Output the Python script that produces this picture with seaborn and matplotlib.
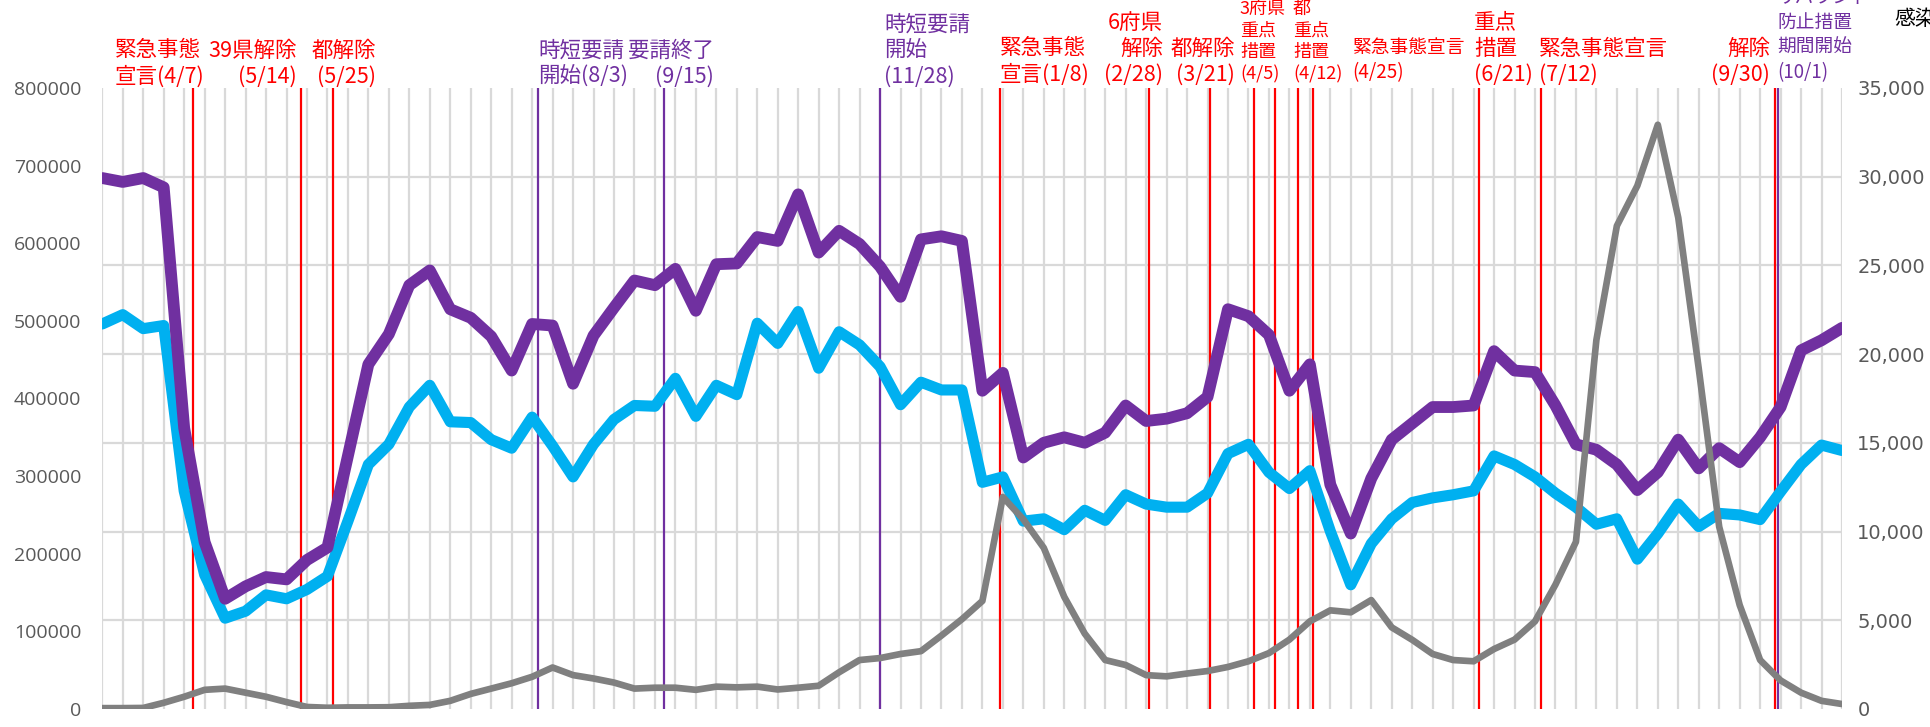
import numpy as np
import pandas as pd
import seaborn as sns
import matplotlib
matplotlib.use("Agg")
from matplotlib import pyplot as plt
from matplotlib.ticker import FixedLocator

# weekly points, first week starts 2020-03-07
start = pd.Timestamp("2020-03-07")
weeks = np.arange(86)

purple_vals = [684000, 679000, 684000, 672000, 362000, 215000, 142000, 158000, 170000, 167000,
               192000, 208000, 326000, 444000, 483000, 546000, 565000, 515000, 504000, 480000,
               436000, 496000, 494000, 419000, 481000, 517000, 552000, 546000, 567000, 513000,
               573000, 574000, 608000, 603000, 663000, 588000, 616000, 599000, 570000, 531000,
               605000, 609000, 603000, 410000, 433000, 324000, 343000, 350000, 343000, 356000,
               391000, 371000, 374000, 381000, 402000, 515000, 506000, 482000, 410000, 444000,
               289000, 226000, 297000, 347000, 368000, 389000, 389000, 391000, 461000, 436000,
               434000, 391000, 341000, 334000, 315000, 282000, 305000, 347000, 310000, 336000,
               318000, 350000, 389000, 462000, 475000, 491000]

cyan_vals = [496000, 508000, 490000, 494000, 281000, 173000, 117000, 126000, 147000, 142000,
             154000, 171000, 242000, 315000, 341000, 389000, 417000, 370000, 369000, 347000,
             336000, 376000, 339000, 299000, 341000, 373000, 391000, 390000, 426000, 377000,
             417000, 405000, 497000, 471000, 512000, 439000, 486000, 469000, 441000, 392000,
             421000, 411000, 411000, 292000, 299000, 242000, 245000, 231000, 256000, 243000,
             276000, 264000, 260000, 260000, 278000, 329000, 341000, 305000, 284000, 307000,
             229000, 160000, 213000, 245000, 266000, 272000, 276000, 281000, 326000, 315000,
             299000, 278000, 260000, 238000, 245000, 193000, 226000, 264000, 235000, 252000,
             250000, 244000, 280000, 315000, 340000, 333000]

cases_vals = [50, 50, 60, 350, 690, 1080, 1150, 920, 690, 390,
              115, 70, 90, 90, 100, 180, 230, 460, 850, 1150,
              1450, 1815, 2340, 1910, 1720, 1490, 1150, 1200, 1200, 1080,
              1260, 1220, 1260, 1100, 1200, 1310, 2070, 2760, 2870, 3100,
              3260, 4140, 5060, 6090, 11950, 10690, 9080, 6320, 4250, 2760,
              2480, 1910, 1840, 2000, 2140, 2370, 2690, 3150, 3910, 4940,
              5560, 5450, 6140, 4600, 3900, 3100, 2760, 2690, 3380, 3910,
              4940, 7010, 9420, 20800, 27230, 29490, 32930, 27690, 19190, 10270,
              5860, 2760, 1610, 920, 460, 280]

red_dates = ["2020-04-07", "2020-05-14", "2020-05-25", "2021-01-08", "2021-02-28",
             "2021-03-21", "2021-04-05", "2021-04-12", "2021-04-20", "2021-04-25",
             "2021-06-21", "2021-07-12", "2021-09-30"]
purple_dates = ["2020-08-03", "2020-09-15", "2020-11-28", "2021-10-01"]

RED = "#FF0000"
PURPLE = "#7030A0"

# text, x (px), alignment, colour, size, bottom (px from top)
notes = [
    ("緊急事態\n宣言(4/7)", 115, "left", RED, 15.5, 88),
    ("39県解除\n(5/14)", 297, "right", RED, 15.5, 88),
    ("都解除\n(5/25)", 376, "right", RED, 15.5, 88),
    ("時短要請\n開始(8/3)", 538, "left", PURPLE, 15.5, 88),
    ("要請終了\n(9/15)", 714, "right", PURPLE, 15.5, 88),
    ("時短要請\n開始\n(11/28)", 884, "left", PURPLE, 15.5, 88),
    ("緊急事態\n宣言(1/8)", 1000, "left", RED, 15.5, 86),
    ("6府県\n解除\n(2/28)", 1163, "right", RED, 15.5, 86),
    ("都解除\n(3/21)", 1235, "right", RED, 15.5, 86),
    ("3府県\n重点\n措置\n(4/5)", 1240, "left", RED, 13, 83),
    ("都\n重点\n措置\n(4/12)", 1293, "left", RED, 13, 83),
    ("緊急事態宣言\n(4/25)", 1352, "left", RED, 13.5, 83),
    ("重点\n措置\n(6/21)", 1474, "left", RED, 15.5, 86),
    ("緊急事態宣言\n(7/12)", 1539, "left", RED, 15.5, 86),
    ("解除\n(9/30)", 1770, "right", RED, 15.5, 86),
    ("リバウンド\n防止措置\n期間開始\n(10/1)", 1777, "left", PURPLE, 13.5, 83),
]

df = pd.DataFrame({"week": weeks, "purple": purple_vals, "cyan": cyan_vals, "cases": cases_vals})

sns.set_style("white")
plt.rcParams['font.family'] = ['Noto Sans CJK JP', 'DejaVu Sans']

W, H = 1931, 727
fig = plt.figure(figsize=(W / 100, H / 100), dpi=100)
ax = fig.add_axes([102.3 / W, 1 - 709 / H, (1842 - 102.3) / W, (709 - 88) / H])
ax2 = ax.twinx()

GRID = "#D9D9D9"
ax.set_axisbelow(True)
ax.set_xlim(0, 85)
ax.set_ylim(0, 800000)
ax2.set_ylim(0, 35000)

# vertical grid at each week, horizontal grid follows the right axis
ax.set_xticks(weeks)
ax.set_xticklabels([])
ax.tick_params(axis="x", length=14, width=1.6, color=GRID)
ax.grid(axis="x", color=GRID, linewidth=1.6)
ax.yaxis.set_minor_locator(FixedLocator(np.linspace(0, 800000, 8)))
ax.grid(axis="y", which="minor", color=GRID, linewidth=1.6)
ax.grid(axis="y", which="major", visible=False)
ax.tick_params(axis="y", which="both", length=0)

ax.set_yticks(range(0, 800001, 100000))
ax.set_yticklabels([str(v) for v in range(0, 800001, 100000)], fontsize=14, color="#595959",
                   family="Open Sans")
ax.tick_params(axis="y", pad=15)

ax2.set_yticks(range(0, 35001, 5000))
ax2.set_yticklabels([f"{v:,}" for v in range(0, 35001, 5000)], fontsize=14, color="#595959",
                    family="DejaVu Sans")
ax2.tick_params(axis="y", length=0, pad=11)
ax2.grid(False)

for s in list(ax.spines.values()) + list(ax2.spines.values()):
    s.set_visible(False)

for d in red_dates:
    ax.axvline((pd.Timestamp(d) - start).days / 7, color=RED, linewidth=1.6, zorder=1.5)
for d in purple_dates:
    ax.axvline((pd.Timestamp(d) - start).days / 7, color=PURPLE, linewidth=1.6, zorder=1.5)

sns.lineplot(data=df, x="week", y="cyan", ax=ax, color="#00B0F0", linewidth=8,
             solid_joinstyle="round", zorder=2)
sns.lineplot(data=df, x="week", y="purple", ax=ax, color=PURPLE, linewidth=8.5,
             solid_joinstyle="round", zorder=3)
sns.lineplot(data=df, x="week", y="cases", ax=ax2, color="#808080", linewidth=4.8,
             solid_joinstyle="round", zorder=3)
ax.set_xlabel("")
ax.set_ylabel("")
ax2.set_ylabel("")

for text, x, ha, color, size, bottom in notes:
    fig.text(x / W, 1 - bottom / H, text, ha=ha, va="bottom", color=color, fontsize=size,
             linespacing=1.25)

fig.text(1894 / W, 1 - 19 / H, "感染者数", ha="left", va="center", fontsize=15, color="black")

fig.savefig("out.png", dpi=100)
